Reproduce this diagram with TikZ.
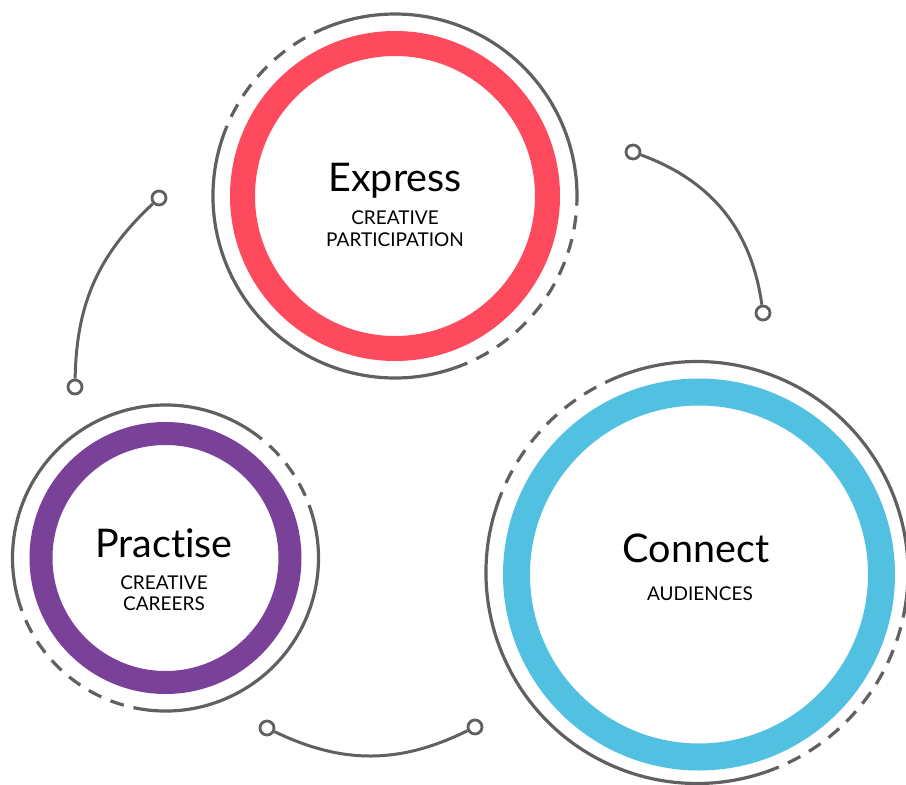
\documentclass[tikz,border=0pt]{standalone}
\usepackage{fontspec}
\setmainfont{Lato}[Ligatures=NoCommon]
\definecolor{expressred}{HTML}{FD4A5C}
\definecolor{practisepurple}{HTML}{7A4199}
\definecolor{connectblue}{HTML}{52C0E0}
\definecolor{halogray}{HTML}{606060}
\tikzset{
  ring/.style={circle, inner sep=0pt, draw},
  halo/.style={draw=halogray, line width=3.2pt},
  halodash/.style={halo, dash pattern=on 14pt off 10pt},
  title/.style={anchor=base, font=\fontsize{39.5}{42}\selectfont},
  subtitle/.style={anchor=base, font=\fontsize{19}{21}\selectfont},
  pin/.style={circle, draw=halogray, line width=2.8pt, fill=white, minimum size=14pt, inner sep=0pt},
  link/.style={draw=halogray, line width=3pt},
}
\begin{document}
\begin{tikzpicture}[x=1pt, y=1pt]
\useasboundingbox (0,0) rectangle (906,-785);

% coloured rings
\node[ring, draw=expressred, line width=25pt, minimum size=305pt] (express) at (395,-196) {};
\node[ring, draw=practisepurple, line width=23pt, minimum size=249pt] (practise) at (165.5,-558) {};
\node[ring, draw=connectblue, line width=27pt, minimum size=365pt] (connect) at (699,-574.5) {};
\coordinate (connectHalo) at (697,-572.5);

% grey halos, part solid and part dashed
\draw[halo] ([shift={(-3:182)}]express.center) arc[start angle=-3, end angle=112, radius=182];
\draw[halodash] ([shift={(112:182)}]express.center) arc[start angle=112, end angle=158, radius=182];
\draw[halo] ([shift={(158:182)}]express.center) arc[start angle=158, end angle=289, radius=182];
\draw[halodash] ([shift={(289:182)}]express.center) arc[start angle=289, end angle=357, radius=182];

\draw[halo] ([shift={(56:153)}]practise.center) arc[start angle=56, end angle=195, radius=153];
\draw[halodash] ([shift={(195:153)}]practise.center) arc[start angle=195, end angle=258, radius=153];
\draw[halo] ([shift={(258:153)}]practise.center) arc[start angle=258, end angle=375, radius=153];
\draw[halodash] ([shift={(15:153)}]practise.center) arc[start angle=15, end angle=56, radius=153];

\draw[halo] ([shift={(-12:211)}]connectHalo) arc[start angle=-12, end angle=112, radius=211];
\draw[halodash] ([shift={(112:211)}]connectHalo) arc[start angle=112, end angle=158, radius=211];
\draw[halo] ([shift={(158:211)}]connectHalo) arc[start angle=158, end angle=289, radius=211];
\draw[halodash] ([shift={(289:211)}]connectHalo) arc[start angle=289, end angle=348, radius=211];

% texts
\node[title] (expressTitle) at (395,-191) {Express};
\node[subtitle] (expressSubA) at (395,-224) {CREATIVE};
\node[subtitle] (expressSubB) at (395,-246) {PARTICIPATION};

\node[title] (practiseTitle) at (164,-557) {Practise};
\node[subtitle] (practiseSubA) at (164,-589) {CREATIVE};
\node[subtitle] (practiseSubB) at (164,-610) {CAREERS};

\node[title] (connectTitle) at (696,-562) {Connect};
\node[subtitle] (connectSub) at (700,-600) {AUDIENCES};

% links between the rings
\node[pin] (leftTop) at (159,-198) {};
\node[pin] (leftBot) at (75,-387) {};
\node[pin] (rightTop) at (633,-152) {};
\node[pin] (rightBot) at (763,-313) {};
\node[pin] (lowLeft) at (267,-728) {};
\node[pin] (lowRight) at (475,-727) {};
\draw[link] (leftTop) to[bend right=23] (leftBot);
\draw[link] (rightTop) to[bend left=31] (rightBot);
\draw[link] (lowLeft) to[bend right=26] (lowRight);
\end{tikzpicture}
\end{document}
